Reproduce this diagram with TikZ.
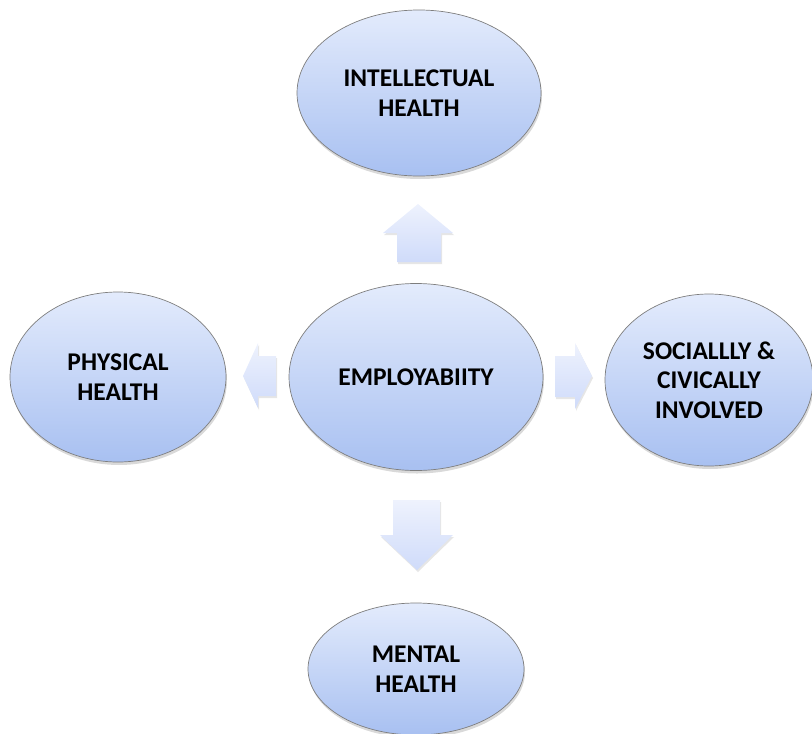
\documentclass[tikz,border=0pt]{standalone}
\usepackage{fontspec}
\setsansfont{Carlito}
\usetikzlibrary{shapes.geometric,shadows,positioning}

\definecolor{ovaltop}{HTML}{E3EBFC}
\definecolor{ovalbot}{HTML}{A8C0F1}
\definecolor{ovalrim}{HTML}{7E7E7E}
\definecolor{arrtop}{HTML}{EEF2FD}
\definecolor{arrbot}{HTML}{CFDBFA}

\begin{document}
\begin{tikzpicture}[x=1pt,y=-1pt]

    \tikzstyle{oval}=[ellipse,draw=ovalrim,line width=0.7pt,
      top color=ovaltop,bottom color=ovalbot,inner sep=0pt,align=center,
      font=\sffamily\bfseries\fontsize{25.5}{29.5}\selectfont,
      drop shadow={opacity=0.3,shadow xshift=1pt,shadow yshift=-3pt}]
    \tikzstyle{blockarrow}=[draw=none,top color=arrtop,bottom color=arrbot,
      drop shadow={opacity=0.2,shadow xshift=1pt,shadow yshift=-2pt}]

    \useasboundingbox (0,0) rectangle (812,734);

    \node[oval,minimum width=254pt,minimum height=187pt] (emp)   at (416,377) {EMPLOYABIITY};
    \node[oval,minimum width=244pt,minimum height=166pt] (h_int) at (419,93)  {INTELLECTUAL\\HEALTH};
    \node[oval,minimum width=216pt,minimum height=170pt] (h_phy) at (118,377) {PHYSICAL\\HEALTH};
    \node[oval,minimum width=208pt,minimum height=172pt] (h_soc) at (709,380) {SOCIALLLY \&\\CIVICALLY\\INVOLVED};
    \node[oval,minimum width=216pt,minimum height=132pt] (h_men) at (416,669) {MENTAL\\HEALTH};

    % block arrows out of the centre
    \path[blockarrow] (418,204) -- (453,233) -- (441,233) -- (441,262)
      -- (397,262) -- (397,233) -- (383,233) -- cycle;
    \path[blockarrow] (243,376) -- (258,343) -- (258,356) -- (276,356)
      -- (276,396) -- (258,396) -- (258,408) -- cycle;
    \path[blockarrow] (592,376) -- (575,343) -- (575,356) -- (555,356)
      -- (555,397) -- (575,397) -- (575,409) -- cycle;
    \path[blockarrow] (417,570) -- (453,535) -- (440,535) -- (440,500)
      -- (393,500) -- (393,535) -- (380,535) -- cycle;
  \end{tikzpicture}
\end{document}
